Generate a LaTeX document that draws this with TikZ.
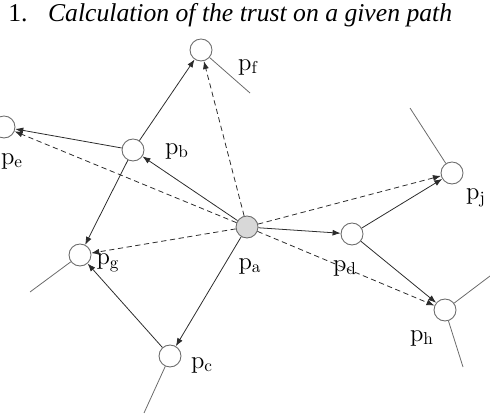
\documentclass[tikz,border=0pt]{standalone}
\usepackage{fontspec}
\newfontfamily\titlefont{Liberation Serif}[ItalicFont=Liberation Serif Italic]
\usepackage{xcolor,tikz}
\usetikzlibrary{arrows.meta,positioning,calc}
\definecolor{ring}{HTML}{6A6A6A}
\definecolor{ink}{HTML}{2B2B2B}
\definecolor{shade}{HTML}{D8D8D8}
\tikzset{peer/.style={circle,draw=ring,fill=white,minimum size=4.4mm,inner sep=0pt,line width=0.5pt},
  source/.style={peer,fill=shade},
  tag/.style={font=\fontsize{14}{16}\selectfont,inner sep=0pt},
  arrow/.style={-{Latex[length=1.6mm,width=1.2mm]},draw=ink,line width=0.45pt},
  probe/.style={arrow,dashed,dash pattern=on 3pt off 2pt},
  stub/.style={draw=ring,line width=0.45pt}}

\begin{document}
\begin{tikzpicture}[x=0.02cm,y=-0.02cm]
\useasboundingbox (0,0) rectangle (490,418);
\node[anchor=base west,inner sep=0pt,font=\titlefont\fontsize{14.6}{17}\selectfont] (title) at (8,22)
  {1.\hspace{0.8em}\textit{Calculation of the trust on a given path}};
% peers
\node[source] (pa) at (247,227) {};
\node[peer] (pb) at (133,150) {};
\node[peer] (pc) at (170,356) {};
\node[peer] (pd) at (352,234) {};
\node[peer] (pe) at (4,127) {};
\node[peer] (pf) at (201,50) {};
\node[peer] (pg) at (80,255) {};
\node[peer] (ph) at (445,310) {};
\node[peer] (pj) at (452,173) {};
% labels
\node[tag] (la) at (250,266) {$\mathrm{p}_{\mathrm{a}}$};
\node[tag] (lb) at (177,151) {$\mathrm{p}_{\mathrm{b}}$};
\node[tag] (lc) at (202,365) {$\mathrm{p}_{\mathrm{c}}$};
\node[tag] (ld) at (345,268) {$\mathrm{p}_{\mathrm{d}}$};
\node[tag] (le) at (12,161) {$\mathrm{p}_{\mathrm{e}}$};
\node[tag] (lf) at (248,67) {$\mathrm{p}_{\mathrm{f}}$};
\node[tag] (lg) at (108,263) {$\mathrm{p}_{\mathrm{g}}$};
\node[tag] (lh) at (422,338) {$\mathrm{p}_{\mathrm{h}}$};
\node[tag] (lj) at (476,198) {$\mathrm{p}_{\mathrm{j}}$};
% loose ends
\coordinate (ef) at (250,93);
\coordinate (ej) at (410,108);
\coordinate (eg) at (30,292);
\coordinate (ec) at (144,413);
\coordinate (eh1) at (490,276);
\coordinate (eh2) at (463,367);
\draw[stub] (pf)--(ef);
\draw[stub] (pj)--(ej);
\draw[stub] (pg)--(eg);
\draw[stub] (pc)--(ec);
\draw[stub] (ph)--(eh1);
\draw[stub] (ph)--(eh2);
% links
\draw[arrow] (pa)--(pb);
\draw[arrow] (pb)--(pe);
\draw[arrow] (pb)--(pf);
\draw[arrow] (pb)--(pg);
\draw[arrow] (pa)--(pc);
\draw[arrow] (pc)--(pg);
\draw[arrow] (pa)--(pd);
\draw[arrow] (pd)--(pj);
\draw[arrow] (pd)--(ph);
% direct trust
\draw[probe] (pa)--(pf);
\draw[probe] (pa)--(pe);
\draw[probe] (pa)--(pg);
\draw[probe] (pa)--(pj);
\draw[probe] (pa)--(ph);
\end{tikzpicture}
\end{document}
